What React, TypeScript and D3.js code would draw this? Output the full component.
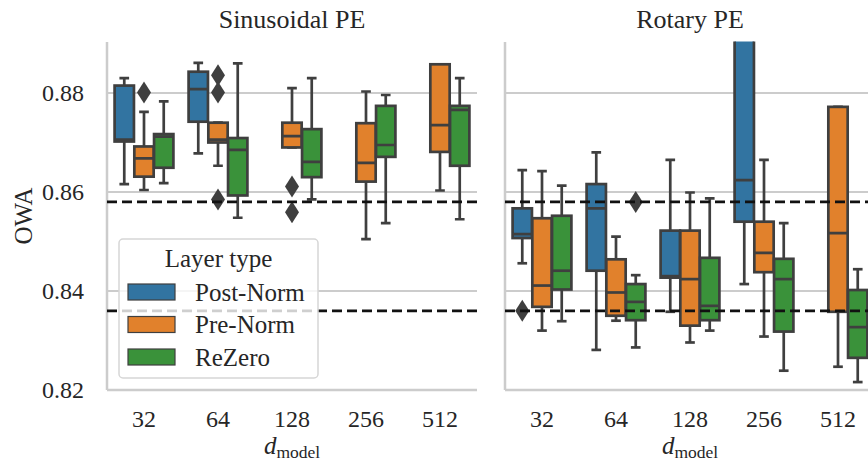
import * as d3 from "d3";

const dims = ["32", "64", "128", "256", "512"];
const layerTypes = ["Post-Norm", "Pre-Norm", "ReZero"];
const layerColors = ["#3274a1", "#e1812c", "#3a923a"];
const yTicks = [0.82, 0.84, 0.86, 0.88];
const refLines = [0.858, 0.836];

// [dim, layer, whiskerLow, q1, median, q3, whiskerHigh, fliers]
type Box = [string, string, number, number, number, number, number, number[]];

const sinusoidalBoxes: Box[] = [
  ["32", "Post-Norm", 0.8616, 0.8702, 0.8706, 0.8815, 0.883, []],
  ["32", "Pre-Norm", 0.8604, 0.8631, 0.8668, 0.8692, 0.8762, [0.8801]],
  ["32", "ReZero", 0.8618, 0.8649, 0.8712, 0.8717, 0.8783, []],
  ["64", "Post-Norm", 0.8678, 0.8742, 0.8808, 0.8843, 0.8861, []],
  ["64", "Pre-Norm", 0.8653, 0.87, 0.8706, 0.874, 0.874, [0.8836, 0.8801, 0.8585]],
  ["64", "ReZero", 0.8548, 0.8593, 0.8685, 0.8709, 0.886, []],
  ["128", "Pre-Norm", 0.869, 0.869, 0.8713, 0.874, 0.881, [0.8611, 0.8559]],
  ["128", "ReZero", 0.8585, 0.863, 0.8661, 0.8727, 0.883, []],
  ["256", "Pre-Norm", 0.8505, 0.8621, 0.8659, 0.8739, 0.8803, []],
  ["256", "ReZero", 0.8537, 0.8671, 0.8695, 0.8774, 0.8796, []],
  ["512", "Pre-Norm", 0.8603, 0.8681, 0.8735, 0.8858, 0.8858, []],
  ["512", "ReZero", 0.8545, 0.8653, 0.8766, 0.8774, 0.883, []],
];

const rotaryBoxes: Box[] = [
  ["32", "Post-Norm", 0.8456, 0.8507, 0.8515, 0.8567, 0.8644, [0.836]],
  ["32", "Pre-Norm", 0.832, 0.8368, 0.8411, 0.8547, 0.8642, []],
  ["32", "ReZero", 0.8339, 0.8403, 0.8441, 0.8552, 0.8613, []],
  ["64", "Post-Norm", 0.8281, 0.8441, 0.8567, 0.8616, 0.868, []],
  ["64", "Pre-Norm", 0.834, 0.835, 0.8397, 0.8464, 0.851, []],
  ["64", "ReZero", 0.8286, 0.8341, 0.8378, 0.8414, 0.8432, [0.858]],
  ["128", "Post-Norm", 0.8358, 0.8427, 0.843, 0.8522, 0.8665, []],
  ["128", "Pre-Norm", 0.8296, 0.833, 0.8424, 0.8522, 0.8599, []],
  ["128", "ReZero", 0.832, 0.8341, 0.837, 0.8467, 0.8587, []],
  ["256", "Post-Norm", 0.8414, 0.854, 0.8624, 0.895, 0.9, []],
  ["256", "Pre-Norm", 0.8308, 0.8438, 0.8477, 0.854, 0.8665, []],
  ["256", "ReZero", 0.8239, 0.8318, 0.8424, 0.8465, 0.8537, []],
  ["512", "Pre-Norm", 0.8247, 0.8358, 0.8517, 0.8772, 0.8772, []],
  ["512", "ReZero", 0.8216, 0.8265, 0.8327, 0.8402, 0.8444, []],
];

const W = 868;
const H = 468;
const top = 43.5;
const bottom = 390;
const edge = "#3f3f3f";
const grid = "#cccccc";
const font = "'Liberation Serif', Tinos, 'Times New Roman', Times, 'DejaVu Serif', FreeSerif, serif";

const y = d3.scaleLinear().domain([0.82, 0.89]).range([bottom, top]);
const color = d3.scaleOrdinal<string, string>().domain(layerTypes).range(layerColors);

function Panel({ x0, x1, title, boxes, showY, id }: {
  x0: number; x1: number; title: string; boxes: Box[]; showY: boolean; id: string;
}) {
  const x = d3.scaleBand().domain(dims).range([x0, x1]);
  const groupW = x.bandwidth() * 0.8;
  const hue = d3.scaleBand().domain(layerTypes).range([-groupW / 2, groupW / 2]);
  const bw = hue.bandwidth() * 0.98;
  const cx = (b: Box) => (x(b[0]) ?? 0) + x.bandwidth() / 2 + (hue(b[1]) ?? 0) + hue.bandwidth() / 2;
  const mid = (x0 + x1) / 2;
  return (
    <g>
      <defs>
        <clipPath id={id}>
          <rect x={x0} y={top - 2} width={x1 - x0 + 10} height={bottom - top + 2} />
        </clipPath>
      </defs>
      {yTicks.map((t) => (
        <line key={t} x1={x0} x2={x1} y1={y(t)} y2={y(t)} stroke={grid} strokeWidth={1.8} />
      ))}
      <line x1={x0} x2={x0} y1={top - 1.5} y2={bottom} stroke={grid} strokeWidth={2.5} />
      <line x1={x0} x2={x1} y1={bottom} y2={bottom} stroke={grid} strokeWidth={2.5} />
      {showY &&
        yTicks.map((t) => (
          <text key={t} x={x0 - 23} y={y(t)} dy="0.35em" textAnchor="end" fontSize={24} style={{ fontFamily: font }} fill="#262626">
            {t.toFixed(2)}
          </text>
        ))}
      {dims.map((d) => (
        <text key={d} x={(x(d) ?? 0) + x.bandwidth() / 2} y={419} dy="0.35em" textAnchor="middle" fontSize={24} style={{ fontFamily: font }} fill="#262626">
          {d}
        </text>
      ))}
      <text x={mid} y={454} textAnchor="middle" fontSize={25} style={{ fontFamily: font }} fill="#262626">
        <tspan fontStyle="italic">d</tspan>
        <tspan fontSize={17.5} dy={4}>model</tspan>
      </text>
      <text x={mid} y={28} textAnchor="middle" fontSize={26} style={{ fontFamily: font }} fill="#262626">
        {title}
      </text>
      <g clipPath={`url(#${id})`}>
        {boxes.map((b, i) => {
          const c = cx(b);
          const [, layer, lo, q1, med, q3, hi, fliers] = b;
          return (
            <g key={i} stroke={edge} strokeWidth={2.7}>
              <line x1={c} x2={c} y1={y(lo)} y2={y(q1)} />
              <line x1={c} x2={c} y1={y(q3)} y2={y(hi)} />
              <line x1={c - bw / 4} x2={c + bw / 4} y1={y(lo)} y2={y(lo)} />
              <line x1={c - bw / 4} x2={c + bw / 4} y1={y(hi)} y2={y(hi)} />
              <rect x={c - bw / 2} y={y(q3)} width={bw} height={y(q1) - y(q3)} fill={color(layer)} />
              <line x1={c - bw / 2} x2={c + bw / 2} y1={y(med)} y2={y(med)} />
              {fliers.map((f, j) => (
                <path key={j} d={`M${c},${y(f) - 11}L${c + 7},${y(f)}L${c},${y(f) + 11}L${c - 7},${y(f)}Z`} fill={edge} stroke="none" />
              ))}
            </g>
          );
        })}
      </g>
      {refLines.map((r) => (
        <line key={r} x1={x0} x2={x1} y1={y(r)} y2={y(r)} stroke="#111" strokeWidth={2.8} strokeDasharray="10,5" />
      ))}
    </g>
  );
}

function Legend() {
  const lx = 119;
  const ly = 239;
  return (
    <g style={{ fontFamily: font }} fill="#262626">
      <rect x={lx} y={ly} width={199} height={139} rx={4} fill="white" fillOpacity={0.8} stroke="#d6d6d6" strokeWidth={1.5} />
      <text x={lx + 99.5} y={ly + 19} dy="0.35em" textAnchor="middle" fontSize={25}>
        Layer type
      </text>
      {layerTypes.map((t, i) => (
        <g key={t} transform={`translate(0,${ly + 53 + i * 32.5})`}>
          <rect x={lx + 9} y={-8} width={47} height={16} fill={color(t)} stroke={edge} strokeWidth={1.2} />
          <text x={lx + 76} y={0} dy="0.35em" fontSize={25} fill="#262626">
            {t}
          </text>
        </g>
      ))}
    </g>
  );
}

export default function App() {
  return (
    <svg width={W} height={H} style={{ position: "absolute", left: 0, top: 0, background: "white" }}>
      <text transform={`translate(23,216) rotate(-90)`} dy="0.35em" textAnchor="middle" fontSize={25} style={{ fontFamily: font }} fill="#262626">
        OWA
      </text>
      <Panel x0={107} x1={477} title="Sinusoidal PE" boxes={sinusoidalBoxes} showY={true} id="clipA" />
      <Panel x0={505} x1={875} title="Rotary PE" boxes={rotaryBoxes} showY={false} id="clipB" />
      <Legend />
    </svg>
  );
}
